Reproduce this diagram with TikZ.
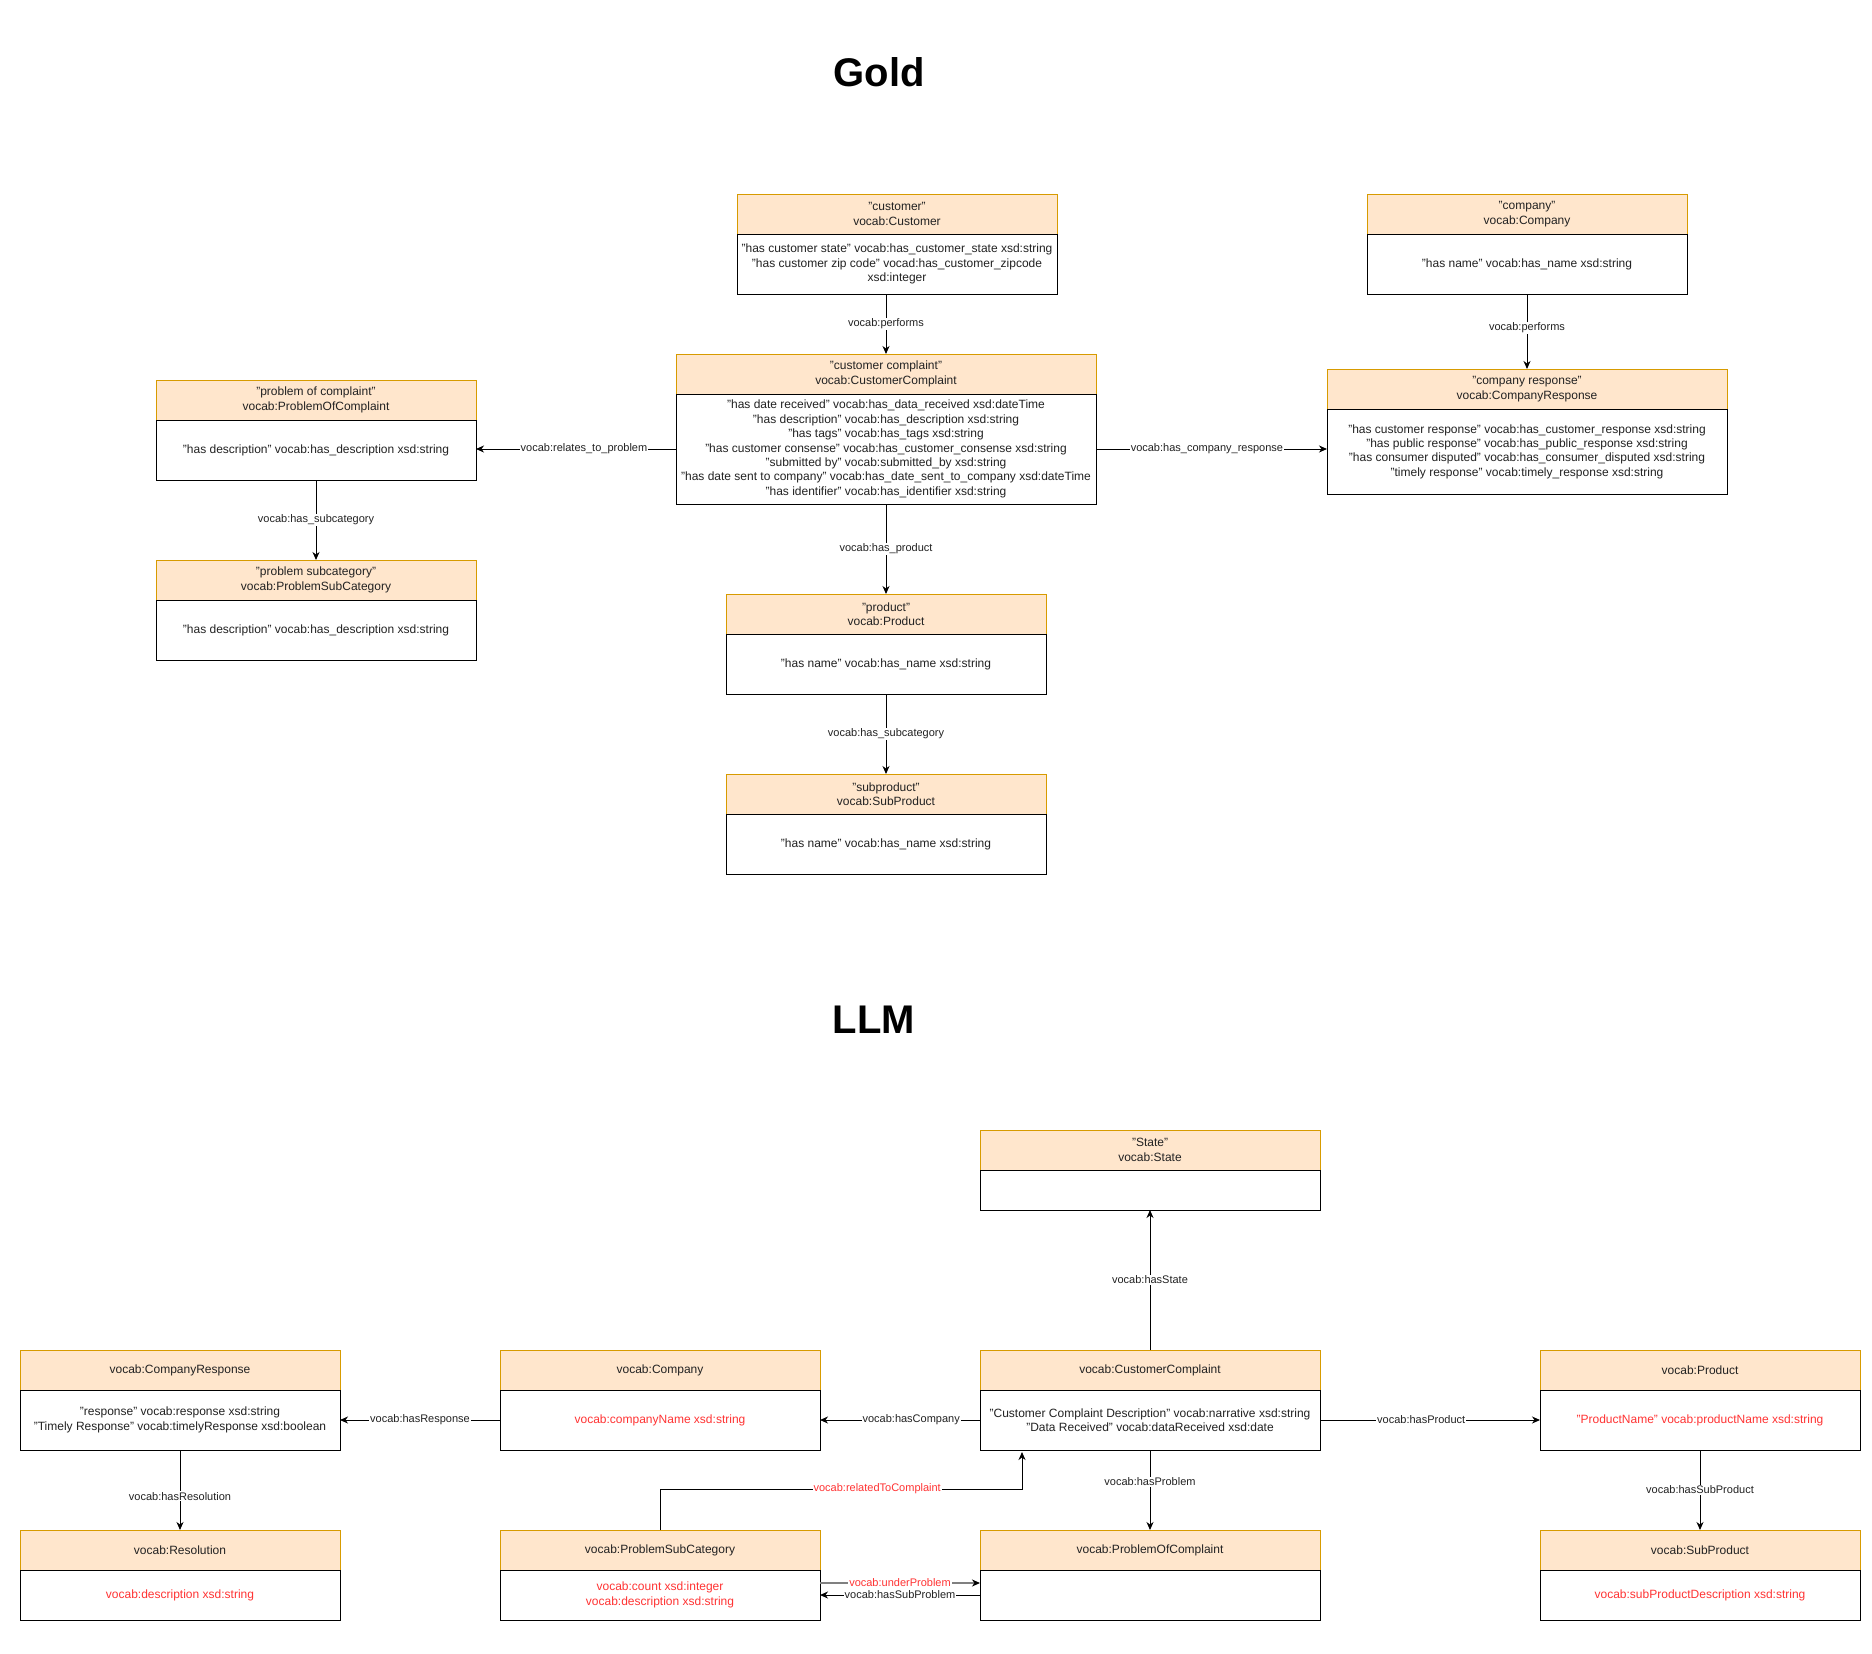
\documentclass[tikz,border=0pt]{standalone}
\usepackage{fontspec}
\setmainfont{Liberation Sans}
\usetikzlibrary{arrows.meta}
\definecolor{hdrfill}{HTML}{FFE6CC}
\definecolor{hdrline}{HTML}{D79B00}
\definecolor{redtxt}{HTML}{FF3333}
\definecolor{txt}{HTML}{222222}
\definecolor{grayline}{HTML}{808080}
\tikzset{
  hdr/.style={draw=hdrline, fill=hdrfill, line width=1pt, inner sep=0pt, outer sep=0pt,
    align=center, text=txt, font=\fontsize{12}{14.4}\selectfont},
  bdy/.style={draw=black, fill=white, line width=1pt, inner sep=0pt, outer sep=0pt,
    align=center, text=txt, font=\fontsize{12}{14.4}\selectfont},
  conn/.style={draw=black, line width=1pt, -{Stealth[length=8pt,width=7pt,inset=2.5pt]}},
  lbl/.style={fill=white, inner sep=1pt, text=txt, font=\fontsize{11}{13}\selectfont},
  ttl/.style={font=\bfseries\fontsize{40}{48}\selectfont, text=black}
}
% #1 body style, #2 name, #3 x1, #4 y1, #5 yh, #6 x2, #7 y2, #8 header, #9 body
\newcommand{\umlbox}[9][]{%
  \node[hdr, minimum width={#6-#3}, minimum height={#5-#4}, anchor=north west] (#2-h) at (#3,#4) {#8};
  \node[bdy, #1, minimum width={#6-#3}, minimum height={#7-#5}, anchor=north west] (#2) at (#3,#5) {#9};
}
\begin{document}
\begin{tikzpicture}[x=1pt,y=-1pt]
\fill[white] (0,0) rectangle (1872,1654);
\useasboundingbox (0,0) rectangle (1872,1654);

% Titles
\node[ttl] (gold) at (879,72) {Gold};
\node[ttl] (llm) at (874,1020) {LLM};

% ---------------- Gold ----------------
\umlbox{cust}{737}{194}{234}{1057}{294}{"customer"\\vocab:Customer}
  {"has customer state" vocab:has\_customer\_state xsd:string\\"has customer zip code" vocad:has\_customer\_zipcode\\xsd:integer}
\umlbox{cc}{676}{354}{394}{1096}{504}{"customer complaint"\\vocab:CustomerComplaint}
  {"has date received" vocab:has\_data\_received xsd:dateTime\\
   "has description" vocab:has\_description xsd:string\\
   "has tags" vocab:has\_tags xsd:string\\
   "has customer consense" vocab:has\_customer\_consense xsd:string\\
   "submitted by" vocab:submitted\_by xsd:string\\
   "has date sent to company" vocab:has\_date\_sent\_to\_company xsd:dateTime\\
   "has identifier" vocab:has\_identifier xsd:string}
\umlbox{comp}{1367}{194}{234}{1687}{294}{"company"\\vocab:Company}
  {"has name" vocab:has\_name xsd:string}
\umlbox{cr}{1327}{369}{409}{1727}{494}{"company response"\\vocab:CompanyResponse}
  {"has customer response" vocab:has\_customer\_response xsd:string\\
   "has public response" vocab:has\_public\_response xsd:string\\
   "has consumer disputed" vocab:has\_consumer\_disputed xsd:string\\
   "timely response" vocab:timely\_response xsd:string}
\umlbox{poc}{156}{380}{420}{476}{480}{"problem of complaint"\\vocab:ProblemOfComplaint}
  {"has description" vocab:has\_description xsd:string}
\umlbox{psc}{156}{560}{600}{476}{660}{"problem subcategory"\\vocab:ProblemSubCategory}
  {"has description" vocab:has\_description xsd:string}
\umlbox{prod}{726}{594}{634}{1046}{694}{"product"\\vocab:Product}
  {"has name" vocab:has\_name xsd:string}
\umlbox{sprod}{726}{774}{814}{1046}{874}{"subproduct"\\vocab:SubProduct}
  {"has name" vocab:has\_name xsd:string}

\draw[conn] (cust.south -| cc-h.north) -- node[lbl]{vocab:performs} (cc-h.north);
\draw[conn] (comp.south) -- node[lbl,pos=0.45]{vocab:performs} (cr-h.north);
\draw[conn] (cc.east) -- node[lbl,pos=0.48]{vocab:has\_company\_response} (cc.east -| cr.west);
\draw[conn] (cc.west) -- node[lbl,pos=0.46]{vocab:relates\_to\_problem} (cc.west -| poc.east);
\draw[conn] (poc.south) -- node[lbl]{vocab:has\_subcategory} (psc-h.north);
\draw[conn] (cc.south) -- node[lbl]{vocab:has\_product} (prod-h.north);
\draw[conn] (prod.south) -- node[lbl]{vocab:has\_subcategory} (sprod-h.north);

% ---------------- LLM ----------------
\umlbox{lst}{980}{1130}{1170}{1320}{1210}{"State"\\vocab:State}{}
\umlbox{lcc}{980}{1350}{1390}{1320}{1450}{vocab:CustomerComplaint}
  {"Customer Complaint Description" vocab:narrative xsd:string\\"Data Received" vocab:dataReceived xsd:date}
\umlbox{lpoc}{980}{1530}{1570}{1320}{1620}{vocab:ProblemOfComplaint}{}
\umlbox[text=redtxt]{lcomp}{500}{1350}{1390}{820}{1450}{vocab:Company}
  {vocab:companyName xsd:string}
\umlbox[text=redtxt]{lpsc}{500}{1530}{1570}{820}{1620}{vocab:ProblemSubCategory}
  {vocab:count xsd:integer\\vocab:description xsd:string}
\umlbox{lcr}{20}{1350}{1390}{340}{1450}{vocab:CompanyResponse}
  {"response" vocab:response xsd:string\\"Timely Response" vocab:timelyResponse xsd:boolean}
\umlbox[text=redtxt]{lres}{20}{1530}{1570}{340}{1620}{vocab:Resolution}
  {vocab:description xsd:string}
\umlbox[text=redtxt]{lprod}{1540}{1350}{1390}{1860}{1450}{vocab:Product}
  {"ProductName" vocab:productName xsd:string}
\umlbox[text=redtxt]{lsprod}{1540}{1530}{1570}{1860}{1620}{vocab:SubProduct}
  {vocab:subProductDescription xsd:string}

\draw[conn] (lcc-h.north) -- node[lbl]{vocab:hasState} (lst.south);
\draw[conn] (lcc.south) -- node[lbl,pos=0.4]{vocab:hasProblem} (lpoc-h.north);
\draw[conn] (lcc.west) -- node[lbl,pos=0.43]{vocab:hasCompany} (lcomp.east);
\draw[conn] (lcomp.west) -- node[lbl]{vocab:hasResponse} (lcr.east);
\draw[conn] (lcc.east) -- node[lbl,pos=0.46]{vocab:hasProduct} (lprod.west);
\draw[conn] (lcr.south) -- node[lbl,pos=0.58]{vocab:hasResolution} (lres-h.north);
\draw[conn] (lprod.south) -- node[lbl]{vocab:hasSubProduct} (lsprod-h.north);
\coordinate (rtc) at (1022,1489);
\draw[conn, shorten >=2pt] (lpsc-h.north) -- (lpsc-h.north |- rtc)
  -- node[lbl,text=redtxt,pos=0.6]{vocab:relatedToComplaint} (rtc) -- (rtc |- lcc.south);
\draw[conn, draw=grayline, line width=2pt, -{Stealth[color=black,length=8pt,width=7pt,inset=2.5pt]}]
  ([yshift=12pt]lpsc.east) -- node[lbl,text=redtxt]{vocab:underProblem} ([yshift=12pt]lpsc.east -| lpoc.west);
\draw[conn] (lpoc.west) -- node[lbl]{vocab:hasSubProblem} (lpsc.east);
\end{tikzpicture}
\end{document}
